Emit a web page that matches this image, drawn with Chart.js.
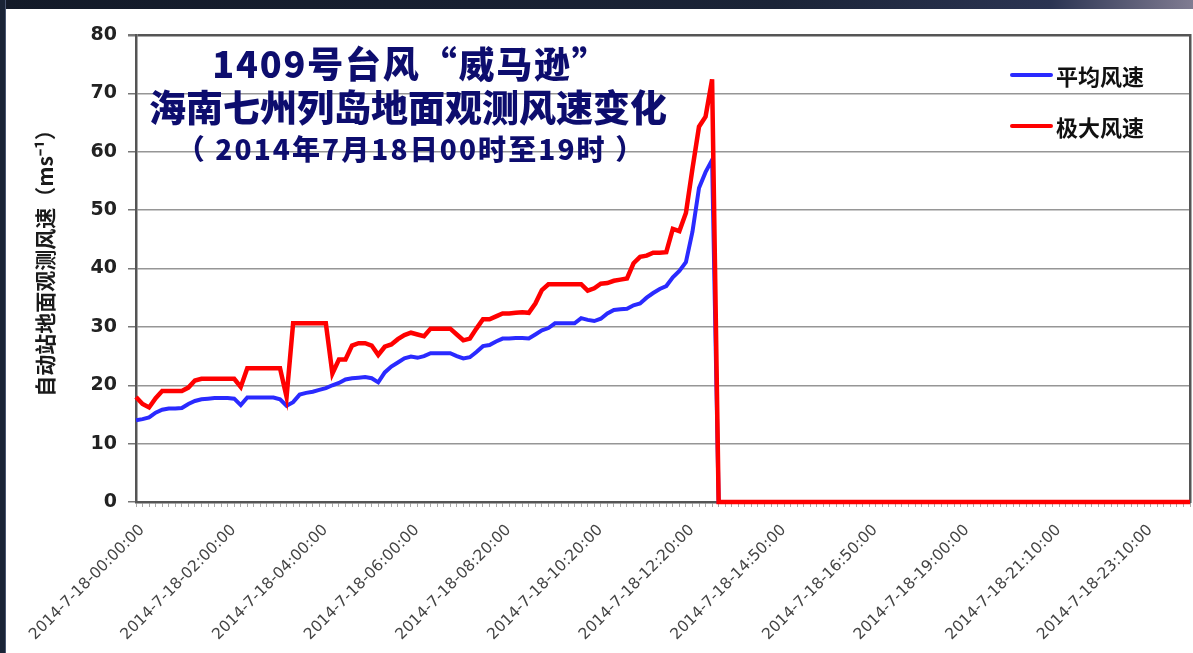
<!DOCTYPE html>
<html>
<head>
<meta charset="utf-8">
<title>1409号台风“威马逊”海南七州列岛地面观测风速变化</title>
<script src="https://cdn.jsdelivr.net/npm/chart.js@4.4.1/dist/chart.umd.min.js"></script>
<style>
  html, body { margin: 0; padding: 0; background: #fff; }
  #wrap { position: relative; width: 1193px; height: 653px; overflow: hidden; background: #fff; }
  #topBar { position: absolute; left: 0; top: 0; width: 1193px; height: 9px; z-index: 2;
            background: linear-gradient(90deg, #131a28 0%, #1b2437 65%, #2b3452 88%, #807c92 100%); }
  #leftBar { position: absolute; left: 0; top: 0; width: 5px; height: 653px; z-index: 2;
             background: #1a2436; border-right: 1px solid #4a5670; }
  canvas { position: absolute; left: 0; top: 0; }
  .ttl { position: absolute; width: 640px; text-align: center; color: #0d0d6e;
         font-family: "Noto Sans CJK SC", sans-serif; font-weight: 900; white-space: nowrap; z-index: 3; }
  #t1 { left: 91px;  top: 40px;  height: 44px; line-height: 44px; font-size: 36px; letter-spacing: 1.8px; }
  #t2 { left: 88px;  top: 84px;  height: 44px; line-height: 44px; font-size: 37px; }
  #t3 { left: 91px;  top: 130px; height: 36px; line-height: 36px; font-size: 28px; letter-spacing: 2.1px; }
  .leg { position: absolute; left: 1010px; height: 30px; display: flex; align-items: center; z-index: 3;
         font: bold 22px "Noto Sans CJK SC", sans-serif; color: #111; }
  .leg i { display: block; width: 43px; height: 4px; margin-right: 3px; border-radius: 2px; }
</style>
</head>
<body>
<div id="wrap">
  <canvas id="windChart" width="1193" height="653"></canvas>
  <div id="topBar"></div>
  <div id="leftBar"></div>
  <div class="ttl" id="t1">1409号台风“威马逊”</div>
  <div class="ttl" id="t2">海南七州列岛地面观测风速变化</div>
  <div class="ttl" id="t3">（ 2014年7月18日00时至19时 ）</div>
  <div id="legend"></div>
</div>
<script>
// labels shown on the x axis, one every 14 records
const tickLabels = [
    '2014-7-18-00:00:00', '2014-7-18-02:00:00', '2014-7-18-04:00:00', '2014-7-18-06:00:00',
    '2014-7-18-08:20:00', '2014-7-18-10:20:00', '2014-7-18-12:20:00', '2014-7-18-14:50:00',
    '2014-7-18-16:50:00', '2014-7-18-19:00:00', '2014-7-18-21:10:00', '2014-7-18-23:10:00'
];
const labelEvery = 14;

const seriesNames  = ['平均风速', '极大风速'];
const seriesColors = ['#2a2aff', '#ff0000'];

// 平均风速 (m/s)
const meanSpeed = [
    14.0, 14.2, 14.5, 15.3, 15.8, 16.0, 16.0, 16.1, 16.8, 17.3,
    17.6, 17.7, 17.8, 17.8, 17.8, 17.7, 16.6, 17.9, 17.9, 17.9,
    17.9, 17.9, 17.6, 16.5, 17.1, 18.4, 18.7, 18.9, 19.2, 19.5,
    20.0, 20.4, 21.0, 21.2, 21.3, 21.4, 21.2, 20.5, 22.2, 23.2,
    23.9, 24.6, 24.9, 24.7, 25.0, 25.5, 25.5, 25.5, 25.5, 25.0,
    24.6, 24.8, 25.7, 26.7, 26.9, 27.5, 28.0, 28.0, 28.1, 28.1,
    28.0, 28.7, 29.4, 29.8, 30.6, 30.6, 30.6, 30.6, 31.5, 31.2,
    31.0, 31.4, 32.3, 32.9, 33.0, 33.1, 33.7, 34.0, 35.0, 35.8,
    36.5, 37.0, 38.5, 39.6, 41.1, 46.3, 53.8, 56.5, 58.6, 0,
    0, 0, 0, 0, 0, 0, 0, 0, 0, 0,
    0, 0, 0, 0, 0, 0, 0, 0, 0, 0,
    0, 0, 0, 0, 0, 0, 0, 0, 0, 0,
    0, 0, 0, 0, 0, 0, 0, 0, 0, 0,
    0, 0, 0, 0, 0, 0, 0, 0, 0, 0,
    0, 0, 0, 0, 0, 0, 0, 0, 0, 0,
    0, 0, 0, 0, 0, 0, 0, 0, 0, 0,
    0, 0
];

// 极大风速 (m/s)
const maxSpeed = [
    18.0, 16.8, 16.2, 17.8, 19.0, 19.0, 19.0, 19.0, 19.6, 20.8,
    21.1, 21.1, 21.1, 21.1, 21.1, 21.1, 19.7, 22.9, 22.9, 22.9,
    22.9, 22.9, 22.9, 18.0, 30.6, 30.6, 30.6, 30.6, 30.6, 30.6,
    22.0, 24.4, 24.4, 26.8, 27.2, 27.2, 26.8, 25.2, 26.6, 27.0,
    27.9, 28.6, 29.0, 28.7, 28.4, 29.7, 29.7, 29.7, 29.7, 28.7,
    27.7, 28.0, 29.7, 31.3, 31.3, 31.8, 32.3, 32.3, 32.4, 32.5,
    32.4, 34.0, 36.3, 37.3, 37.3, 37.3, 37.3, 37.3, 37.3, 36.2,
    36.6, 37.4, 37.5, 37.9, 38.1, 38.3, 40.9, 42.0, 42.2, 42.7,
    42.7, 42.8, 46.8, 46.4, 49.5, 57.1, 64.3, 66.0, 72.4, 0,
    0, 0, 0, 0, 0, 0, 0, 0, 0, 0,
    0, 0, 0, 0, 0, 0, 0, 0, 0, 0,
    0, 0, 0, 0, 0, 0, 0, 0, 0, 0,
    0, 0, 0, 0, 0, 0, 0, 0, 0, 0,
    0, 0, 0, 0, 0, 0, 0, 0, 0, 0,
    0, 0, 0, 0, 0, 0, 0, 0, 0, 0,
    0, 0, 0, 0, 0, 0, 0, 0, 0, 0,
    0, 0
];

const categories = meanSpeed.map((v, i) => (i % labelEvery === 0 ? tickLabels[i / labelEvery] : ''));

// html legend, top right inside the plot
const legendBox = document.getElementById('legend');
seriesNames.forEach((name, i) => {
    const row = document.createElement('div');
    row.className = 'leg';
    row.style.top = (60 + i * 51) + 'px';
    row.innerHTML = `<i style="background:${seriesColors[i]}"></i>${name}`;
    legendBox.appendChild(row);
});

new Chart(document.getElementById('windChart').getContext('2d'), {
    type: 'line',
    data: {
        labels: categories,
        datasets: [
            {
                label: seriesNames[0],
                data: meanSpeed,
                borderColor: seriesColors[0],
                borderWidth: 4,
                pointRadius: 0,
                tension: 0,
                clip: false,
                order: 1
            },
            {
                label: seriesNames[1],
                data: maxSpeed,
                borderColor: seriesColors[1],
                borderWidth: 4.5,
                pointRadius: 0,
                tension: 0,
                clip: false,
                order: 0
            }
        ]
    },
    options: {
        responsive: false,
        animation: false,
        devicePixelRatio: 1,
        layout: { padding: { left: 0, top: 35, right: 3, bottom: 0 } },
        plugins: {
            legend: { display: false },
            tooltip: { enabled: false }
        },
        scales: {
            x: {
                grid: { drawOnChartArea: false, drawTicks: true, tickLength: 5, color: '#a8a8a8', lineWidth: 1 },
                border: { color: '#555', width: 2.5 },
                ticks: {
                    autoSkip: false,
                    minRotation: 45,
                    maxRotation: 45,
                    padding: 14,
                    labelOffset: 6,
                    color: '#444',
                    font: { family: 'DejaVu Sans', size: 15.5 }
                },
                afterFit: s => {
                    s.height = 151;
                    s.paddingLeft = 0;
                    s.paddingRight = 0;
                }
            },
            y: {
                min: 0,
                max: 80,
                ticks: {
                    stepSize: 10,
                    padding: 11,
                    color: '#222',
                    font: { family: 'DejaVu Sans', size: 19, weight: 'bold' }
                },
                grid: {
                    color: c => (c.tick.value === 80 ? '#555' : '#969696'),
                    lineWidth: c => (c.tick.value === 80 ? 2.5 : 1.5),
                    tickColor: '#777',
                    tickLength: 8
                },
                border: { color: '#555', width: 2.5 },
                title: {
                    display: true,
                    text: '　自动站地面观测风速（ms⁻¹）',
                    color: '#1a1a1a',
                    padding: { top: 32, bottom: 0 },
                    font: { family: 'Noto Sans CJK SC', size: 21, weight: 'bold' }
                },
                afterFit: s => { s.width = 136; }
            },
            yRight: {
                position: 'right',
                min: 0,
                max: 80,
                ticks: { display: false },
                grid: { drawOnChartArea: false, drawTicks: false },
                border: { color: '#555', width: 2.5 },
                afterFit: s => {
                    s.width = 0;
                    s.paddingTop = 0;
                    s.paddingBottom = 0;
                }
            }
        }
    }
});
</script>
</body>
</html>
